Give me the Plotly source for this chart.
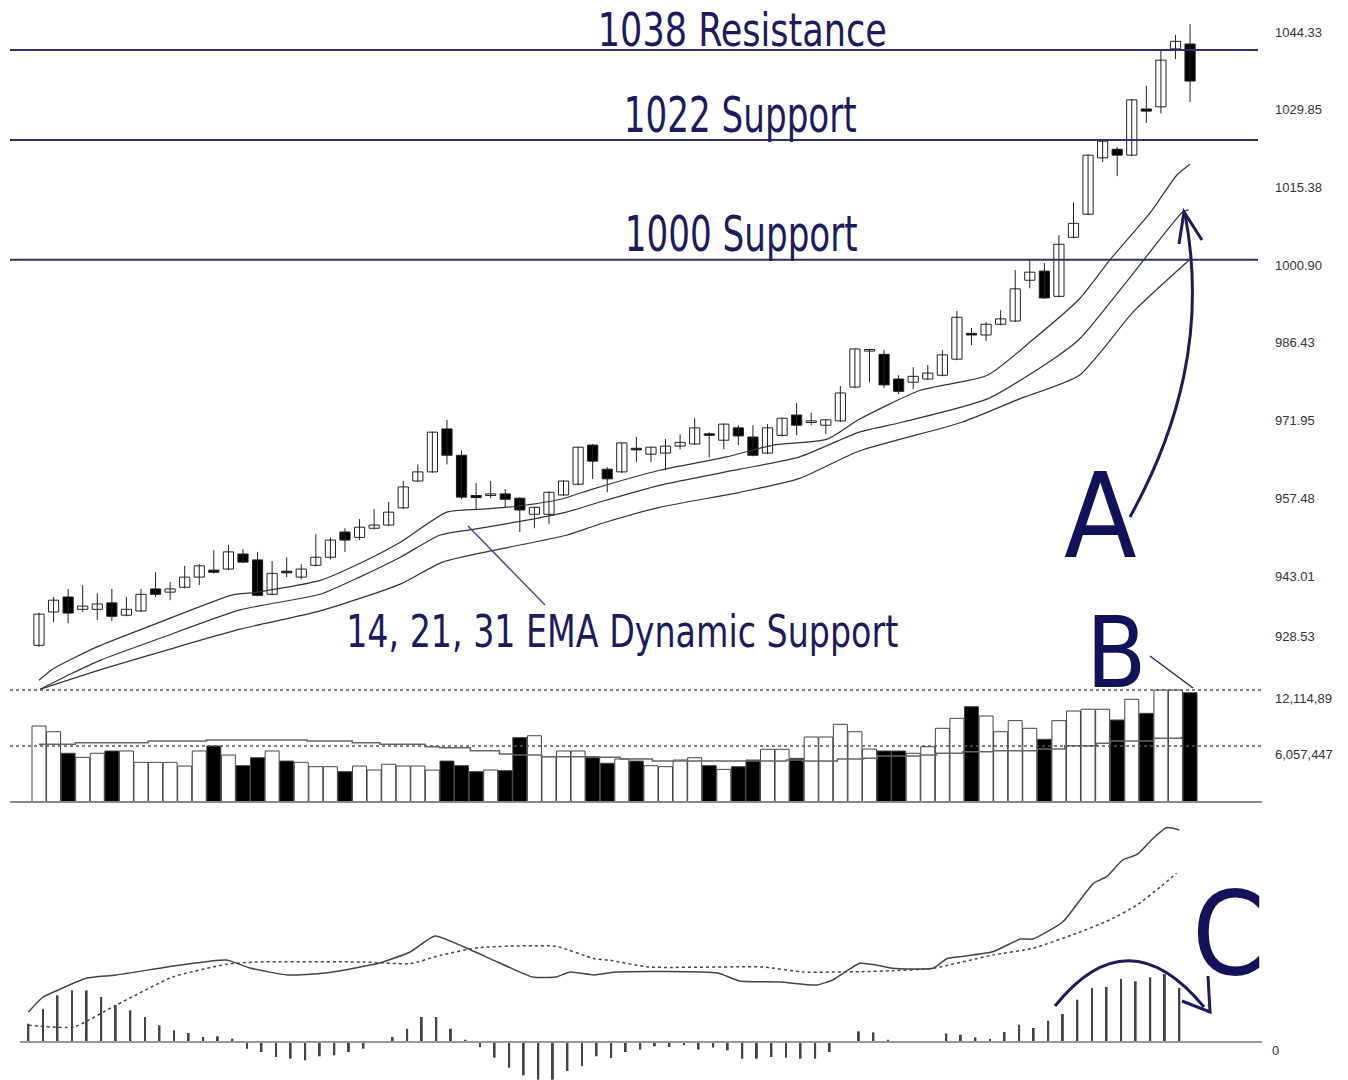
import plotly.graph_objects as go

W, H = 1348, 1080

# ---------------- data ----------------
opens = [930.1, 936.3, 939.1, 936.8, 936.8, 938.0, 935.7, 936.5, 940.6, 940.0,
         940.9, 942.8, 944.1, 944.3, 947.1, 946.0, 939.6, 943.8, 942.8, 945.0,
         946.5, 951.2, 950.2, 951.9, 952.5, 955.7, 960.7, 962.4, 970.4, 965.5,
         958.0, 958.0, 958.3, 957.5, 954.5, 954.5, 958.1, 960.1, 967.4, 962.9,
         962.4, 966.7, 965.7, 965.9, 967.2, 967.6, 969.4, 968.3, 970.6, 968.9,
         965.9, 969.2, 973.0, 971.6, 971.1, 971.9, 978.2, 984.9, 984.3, 979.7,
         979.1, 979.7, 980.4, 983.4, 988.1, 987.9, 989.9, 990.5, 998.1, 999.8,
         995.1, 1006.1, 1010.4, 1020.9, 1022.5, 1021.4, 1030.0, 1030.4, 1041.2, 1042.1]
highs = [936.2, 939.1, 940.6, 941.3, 939.8, 940.6, 939.1, 940.6, 943.7, 941.9,
         944.9, 945.2, 947.8, 948.8, 948.0, 947.5, 945.8, 946.5, 945.2, 950.8,
         950.2, 951.9, 953.6, 955.5, 956.8, 960.7, 963.8, 969.9, 972.1, 966.4,
         960.3, 960.7, 959.2, 957.7, 955.9, 958.8, 960.8, 967.1, 967.6, 963.3,
         967.9, 968.9, 967.1, 968.5, 969.4, 972.4, 969.8, 971.4, 971.1, 971.1,
         971.3, 972.5, 975.2, 973.4, 972.2, 978.4, 985.4, 985.3, 985.1, 980.4,
         981.9, 982.3, 985.1, 992.4, 989.2, 990.3, 992.5, 1000.0, 1001.8, 1001.3,
         1006.5, 1012.6, 1021.5, 1024.4, 1022.9, 1031.8, 1034.3, 1040.8, 1043.8, 1045.8]
lows = [929.8, 934.4, 934.2, 936.3, 934.8, 934.6, 935.5, 936.3, 939.1, 938.5,
        940.7, 941.3, 943.5, 944.1, 945.4, 939.2, 939.4, 942.8, 942.4, 944.8,
        946.1, 947.5, 949.7, 951.7, 952.3, 955.5, 960.5, 962.2, 963.8, 957.3,
        955.3, 957.5, 955.8, 951.2, 951.9, 952.7, 957.9, 959.9, 961.1, 958.6,
        962.2, 964.2, 964.2, 962.7, 966.6, 967.4, 965.1, 966.6, 967.4, 965.3,
        965.7, 969.0, 969.2, 971.1, 969.4, 971.7, 978.0, 979.1, 978.0, 976.9,
        977.8, 979.5, 980.2, 983.2, 986.0, 986.8, 989.7, 990.3, 996.6, 994.6,
        994.9, 1005.9, 1010.2, 1020.1, 1017.5, 1021.2, 1027.4, 1029.2, 1039.3, 1031.3]
closes = [935.9, 938.5, 936.1, 937.4, 937.8, 935.5, 936.8, 939.6, 939.6, 940.6,
          942.8, 944.9, 943.7, 947.5, 945.6, 939.4, 943.5, 943.6, 944.3, 946.5,
          949.7, 949.7, 952.1, 952.5, 954.9, 959.6, 962.4, 969.8, 965.5, 957.7,
          957.6, 958.2, 957.3, 955.3, 955.8, 958.6, 960.7, 967.0, 964.4, 961.1,
          967.8, 966.5, 967.0, 967.2, 967.9, 970.6, 969.2, 971.3, 969.1, 965.5,
          970.6, 972.4, 971.1, 971.8, 972.1, 977.1, 985.3, 985.1, 978.6, 977.4,
          980.2, 980.8, 984.2, 991.2, 987.9, 989.9, 990.9, 996.5, 999.6, 994.8,
          1004.8, 1008.7, 1021.4, 1024.0, 1021.4, 1031.7, 1029.6, 1039.1, 1042.6, 1035.2]

volume_m = [8.22, 7.60, 5.27, 4.83, 5.27, 5.52, 5.52, 4.29, 4.29, 4.29,
            3.89, 5.52, 6.06, 5.08, 3.93, 4.79, 5.52, 4.43, 4.29, 3.82,
            3.82, 3.28, 3.89, 3.46, 4.08, 3.89, 3.89, 3.45, 4.43, 3.93,
            3.28, 3.46, 3.39, 6.96, 7.17, 4.90, 5.52, 5.52, 4.90, 4.19,
            4.65, 4.43, 3.93, 3.82, 4.54, 4.79, 3.93, 3.53, 3.82, 4.54,
            5.70, 5.70, 4.72, 7.03, 7.03, 8.40, 7.60, 5.73, 5.52, 5.52,
            5.27, 5.98, 7.97, 9.05, 10.31, 9.30, 7.60, 8.80, 7.97, 6.78,
            8.80, 9.84, 10.03, 10.03, 8.87, 11.11, 9.59, 12.11, 12.11, 11.82]
volume_down = [0, 0, 1, 0, 0, 1, 0, 0, 0, 0,
               0, 0, 1, 0, 1, 1, 0, 1, 0, 0,
               0, 1, 0, 0, 0, 0, 0, 0, 1, 1,
               1, 0, 1, 1, 0, 0, 0, 0, 1, 1,
               0, 1, 0, 0, 0, 0, 1, 0, 1, 1,
               0, 0, 1, 0, 0, 0, 0, 0, 1, 1,
               0, 0, 0, 0, 1, 0, 0, 0, 0, 1,
               0, 0, 0, 0, 1, 0, 1, 0, 0, 1]

vol_ma_x = [0, 2.5, 7.5, 11.5, 18.4, 21.5, 23.4, 26.5, 27.5, 29.6, 31.6, 32.5, 34.5,
            37.6, 39.9, 42.1, 46.7, 51.3, 52.4, 54.8, 56.6, 57.5, 60.5, 61.6, 63.4,
            65.5, 68.5, 70.4, 72.6, 73.5, 76.5, 78.4]
vol_ma_m = [6.24, 6.41, 6.60, 6.71, 6.60, 6.41, 6.24, 5.98, 5.87, 5.55, 5.19, 5.08, 4.90,
            4.84, 4.65, 4.44, 4.44, 4.54, 4.44, 4.65, 4.73, 4.98, 5.08, 5.27, 5.44,
            5.55, 5.73, 6.09, 6.35, 6.60, 6.89, 7.06]

ema14_x = [0, 0.96, 3.98, 7.82, 13.3, 14.7, 19.3, 22.5, 24.8, 28.0, 30.75, 32.8, 35.8,
           38.0, 42.6, 47.2, 50.4, 54.1, 56.3, 60.5, 65.1, 68.2, 71.4, 73.5, 76.3, 78.1, 79.0]
ema14 = [923.6, 925.7, 929.8, 933.9, 939.5, 939.9, 942.2, 946.0, 949.3, 954.9, 955.5, 956.0, 957.3,
         959.2, 962.7, 965.2, 967.4, 968.5, 972.2, 977.6, 980.4, 987.0, 994.6, 1001.9, 1010.8, 1017.7, 1019.7]
ema21_x = [0.07, 2.13, 4.19, 8.3, 13.8, 19.3, 22.0, 24.8, 27.5, 29.8, 33.9, 36.2, 38.5,
           42.6, 48.1, 52.2, 56.3, 59.3, 65.1, 69.6, 71.4, 74.9, 78.5, 78.9]
ema21 = [921.9, 924.7, 927.3, 931.4, 936.7, 939.6, 942.8, 946.5, 950.6, 951.7, 953.6, 954.9, 956.8,
         959.9, 962.9, 965.2, 969.8, 971.7, 976.0, 983.4, 987.1, 998.7, 1010.8, 1011.2]
ema31_x = [0.07, 4.4, 9.0, 13.8, 19.3, 24.8, 27.7, 31.6, 36.2, 38.5, 42.6, 48.1, 52.2,
           56.3, 63.4, 67.3, 71.4, 75.1, 79.0]
ema31 = [921.9, 925.7, 929.4, 933.1, 936.5, 941.5, 945.6, 948.0, 950.6, 952.7, 955.8, 958.6, 961.2,
         966.3, 971.7, 976.0, 980.4, 992.2, 1002.0]

macd_x = [0, 1.0, 2.05, 4.0, 6.0, 10.45, 13.6, 15.2, 17.8, 20.4, 24.1, 26.2, 27.9, 29.9, 32.2,
          34.6, 36.2, 37.2, 38.8, 40.3, 47.3, 48.8, 51.6, 54.1, 55.2, 57.07, 58.2, 59.3, 62.1,
          63.0, 63.9, 66.2, 68.1, 68.95, 71.0, 73.1, 74.0, 75.1, 76.1, 77.2, 78.1, 79.0]
macd = [3.0, 4.5, 5.2, 6.4, 6.7, 7.7, 8.2, 7.4, 6.7, 6.9, 7.9, 9.0, 10.6, 9.5, 8.0,
        6.5, 6.5, 7.0, 6.7, 7.0, 6.9, 6.1, 6.0, 5.7, 6.2, 7.87, 7.7, 7.37, 7.37,
        8.3, 8.53, 9.03, 10.3, 10.3, 12.03, 15.87, 16.53, 18.2, 18.77, 20.37, 21.43, 21.2]
signal_x = [0, 3.1, 6.0, 9.9, 13.6, 15.7, 23.0, 26.2, 28.3, 30.9, 36.2, 38.8, 39.8, 42.6,
            50.4, 53.2, 57.07, 59.3, 62.1, 66.2, 68.95, 71.95, 74.2, 76.1, 77.7, 78.8]
signal = [1.67, 1.5, 3.67, 6.5, 7.77, 8.0, 8.0, 7.84, 8.67, 9.44, 9.57, 8.34, 8.2, 7.5,
          7.5, 7.0, 7.03, 7.13, 7.37, 8.7, 9.37, 10.87, 12.2, 13.7, 15.53, 16.87]
hist = [1.83, 3.33, 4.67, 5.17, 5.17, 4.5, 3.67, 3.17, 2.5, 1.67,
        1.17, 0.9, 0.5, 0.57, 0.33, -0.67, -1.0, -1.5, -1.67, -1.83,
        -1.43, -1.33, -1.0, -0.67, -0.1, 0.5, 1.33, 2.5, 2.5, 1.33,
        0.23, -0.5, -1.57, -2.57, -3.33, -3.77, -3.77, -2.9, -2.43, -1.43,
        -1.6, -1.0, -0.76, -0.43, -0.5, -0.33, -0.76, -0.56, -0.83, -1.67,
        -1.67, -1.5, -1.57, -1.67, -1.67, -1.0, 0.05, 1.06, 0.96, 0.23,
        0.0, 0.0, 0.0, 0.86, 0.73, 0.46, 0.3, 1.0, 1.73, 1.4,
        2.13, 2.8, 4.23, 5.4, 5.5, 6.3, 6.07, 6.47, 6.8, 5.4]

levels = [1041.0, 1024.2, 1001.9]
level_labels = ["1038 Resistance", "1022 Support", "1000 Support"]
ema_label = "14, 21, 31 EMA Dynamic Support"

price_tick_labels = ["1044.33", "1029.85", "1015.38", "1000.90", "986.43",
                     "971.95", "957.48", "943.01", "928.53"]
price_tick_values = [1044.33, 1029.85, 1015.38, 1000.90, 986.43,
                     971.95, 957.48, 943.01, 931.8]
volume_tick_values = [12114894, 6057447]
volume_tick_labels = ["12,114,89", "6,057,447"]

# ---------------- helpers ----------------
def px(x):
    return x / W

def py(y):
    return 1 - y / H

NAVY = "#1b1b5e"
NARROW = "Liberation Sans Narrow, Arial Narrow, DejaVu Sans Condensed, sans-serif"
n = len(closes)
idx = list(range(n))

fig = go.Figure()

# wicks
wx, wy = [], []
for i in idx:
    wx += [i, i, None]
    wy += [lows[i], highs[i], None]
fig.add_trace(go.Scatter(x=wx, y=wy, mode="lines", line=dict(color="#222", width=1),
                         hoverinfo="skip", showlegend=False, xaxis="x", yaxis="y"))

# bodies
base = [min(o, c) for o, c in zip(opens, closes)]
hgt = [max(abs(c - o), 0.3) for o, c in zip(opens, closes)]
bcol = ["#000000" if c < o else "#ffffff" for o, c in zip(opens, closes)]
fig.add_trace(go.Bar(x=idx, y=hgt, base=base, width=0.7,
                     marker=dict(color=bcol, line=dict(color="#222", width=1)),
                     showlegend=False, xaxis="x", yaxis="y"))

# EMAs
for ex, ey in [(ema14_x, ema14), (ema21_x, ema21), (ema31_x, ema31)]:
    fig.add_trace(go.Scatter(x=ex, y=ey, mode="lines",
                             line=dict(color="#333", width=1.2, shape="spline", smoothing=0.6),
                             showlegend=False, xaxis="x", yaxis="y"))

# volume
vols = [v * 1e6 for v in volume_m]
vcol = ["#000000" if d else "#ffffff" for d in volume_down]
fig.add_trace(go.Bar(x=idx, y=vols, width=0.96, marker=dict(color=vcol, line=dict(color="#444", width=1)),
                     showlegend=False, xaxis="x2", yaxis="y2"))
fig.add_trace(go.Scatter(x=vol_ma_x, y=[v * 1e6 for v in vol_ma_m], mode="lines",
                         line=dict(color="#666", width=1.5, shape="hv"), showlegend=False,
                         xaxis="x2", yaxis="y2"))

# MACD
fig.add_trace(go.Bar(x=idx, y=hist, width=0.13, marker=dict(color="#444", line=dict(width=0)),
                     showlegend=False, xaxis="x3", yaxis="y3"))
fig.add_trace(go.Scatter(x=macd_x, y=macd, mode="lines",
                         line=dict(color="#444", width=1.5, shape="spline", smoothing=0.5),
                         showlegend=False, xaxis="x3", yaxis="y3"))
fig.add_trace(go.Scatter(x=signal_x, y=signal, mode="lines",
                         line=dict(color="#444", width=1.5, dash="3px,3px", shape="spline", smoothing=0.5),
                         showlegend=False, xaxis="x3", yaxis="y3"))

xdom = [px(10), px(1268)]
xr = [-1.99, 84.35]
xr3 = [-1.263, 85.08]
tickfont = dict(family="Liberation Sans, Arial, sans-serif", size=13, color="#333")

fig.update_layout(
    width=W, height=H, margin=dict(l=0, r=0, t=0, b=0),
    paper_bgcolor="white", plot_bgcolor="rgba(0,0,0,0)",
    barmode="overlay", showlegend=False,
    xaxis=dict(domain=xdom, range=xr, visible=False, anchor="y"),
    yaxis=dict(domain=[py(692), 1], range=[921.4, 1050.3], side="right", anchor="x",
               tickvals=price_tick_values, ticktext=price_tick_labels, showgrid=False,
               zeroline=False, showline=False, ticks="", tickfont=tickfont, ticklabelstandoff=6),
    xaxis2=dict(domain=xdom, range=xr, visible=False, anchor="y2"),
    yaxis2=dict(domain=[py(803), py(680)], range=[-0.108e6, 13.197e6], side="right", anchor="x2",
                tickvals=volume_tick_values, ticktext=volume_tick_labels, showgrid=False,
                zeroline=False, showline=False, ticks="", tickfont=tickfont, ticklabelstandoff=6,
                ticklabelshift=8),
    xaxis3=dict(domain=xdom, range=xr3, visible=False, anchor="y3"),
    yaxis3=dict(domain=[0, py(805)], range=[-3.8, 23.7], side="right", anchor="x3",
                tickvals=[0], ticktext=["0"], showgrid=False, zeroline=False, showline=False,
                ticks="", tickfont=tickfont, ticklabelstandoff=3, ticklabelshift=8),
)

shapes = []
# support / resistance lines
for lv in levels:
    shapes.append(dict(type="line", xref="paper", yref="y", x0=px(10), x1=px(1258), y0=lv, y1=lv,
                       line=dict(color="#2e2e70", width=2)))
# volume dotted levels and baseline
for tv in volume_tick_values:
    shapes.append(dict(type="line", xref="paper", yref="y2", x0=px(10), x1=px(1264), y0=tv, y1=tv,
                       line=dict(color="#555", width=1.3, dash="3px,3px")))
shapes.append(dict(type="line", xref="paper", yref="y2", x0=px(10), x1=px(1262), y0=0, y1=0,
                   line=dict(color="#888", width=2)))
# MACD zero line
shapes.append(dict(type="line", xref="paper", yref="y3", x0=px(20), x1=px(1262), y0=0, y1=0,
                   line=dict(color="#999", width=2)))
# EMA leader line
shapes.append(dict(type="line", xref="paper", yref="paper", x0=px(468), y0=py(526), x1=px(545), y1=py(605),
                   line=dict(color="#4c4c85", width=1.5)))
# B leader line
shapes.append(dict(type="line", xref="paper", yref="paper", x0=px(1150), y0=py(656), x1=px(1193), y1=py(688),
                   line=dict(color=NAVY, width=1.3)))


def path(points, cmd):
    out = []
    for c, pts in zip(cmd, points):
        out.append(c + " " + " ".join(f"{px(x):.5f},{py(y):.5f}" for x, y in pts))
    return " ".join(out)

# arrow A
shapes.append(dict(type="path", xref="paper", yref="paper",
                   path=path([[(1130, 517)], [(1178, 430), (1207, 330), (1185, 214)]], ["M", "C"]),
                   line=dict(color=NAVY, width=3)))
shapes.append(dict(type="path", xref="paper", yref="paper",
                   path=path([[(1179, 244)], [(1184, 212)], [(1202, 240)]], ["M", "L", "L"]),
                   line=dict(color=NAVY, width=3)))
# arrow C
shapes.append(dict(type="path", xref="paper", yref="paper",
                   path=path([[(1055, 1006)], [(1128, 915), (1204, 1007)]], ["M", "Q"]),
                   line=dict(color=NAVY, width=3)))
shapes.append(dict(type="path", xref="paper", yref="paper",
                   path=path([[(1208, 976)], [(1210, 1012)], [(1182, 1001)]], ["M", "L", "L"]),
                   line=dict(color=NAVY, width=3)))
fig.update_layout(shapes=shapes)

ann = []
for lbl, (xc, yc), s in zip(level_labels, [(742, 29), (740, 116), (741, 235)], [47, 49, 49]):
    ann.append(dict(text=lbl, x=px(xc), y=py(yc), xref="paper", yref="paper", showarrow=False,
                    xanchor="center", yanchor="middle", font=dict(family=NARROW, size=s, color=NAVY)))
ann.append(dict(text=ema_label, x=px(622), y=py(631), xref="paper", yref="paper",
                showarrow=False, xanchor="center", yanchor="middle",
                font=dict(family=NARROW, size=44, color=NAVY)))
for t, (xc, yc), s in [("A", (1100, 516), 118), ("B", (1116, 653), 98), ("C", (1228, 933), 116)]:
    ann.append(dict(text=t, x=px(xc), y=py(yc), xref="paper", yref="paper", showarrow=False,
                    xanchor="center", yanchor="middle", font=dict(family=NARROW, size=s, color="#12125a")))
fig.update_layout(annotations=ann)

# the original lettering is a narrow face: squeeze the long labels to their measured widths
narrow_js = """
var m = {"1038 Resistance": 289, "1022 Support": 233, "1000 Support": 233,
         "14, 21, 31 EMA Dynamic Support": 552};
document.querySelectorAll('text.annotation-text').forEach(function (t) {
  var k = t.textContent;
  if (m[k]) { t.setAttribute('textLength', m[k]); t.setAttribute('lengthAdjust', 'spacingAndGlyphs'); }
});
document.body.style.margin = '0';
document.body.style.overflow = 'hidden';
"""

fig.write_html("out.html", config={"displayModeBar": False}, post_script=narrow_js)
